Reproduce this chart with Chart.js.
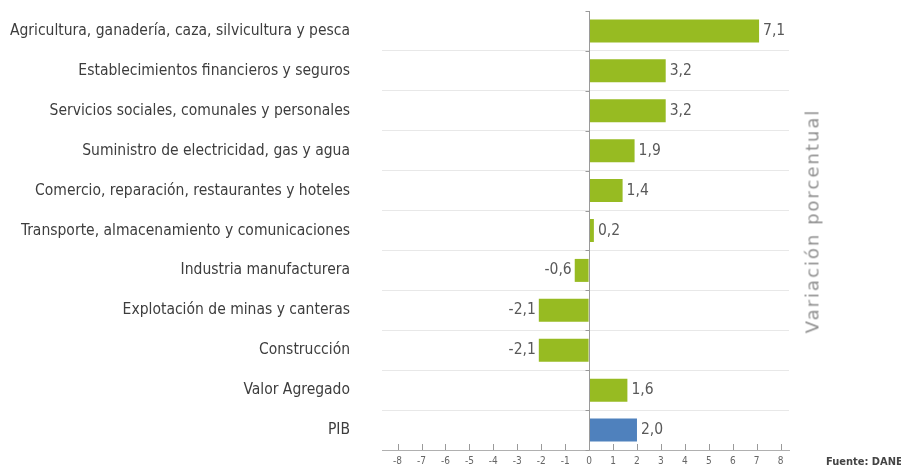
<!DOCTYPE html>
<html>
<head>
<meta charset="utf-8">
<script src="https://cdn.jsdelivr.net/npm/chart.js@4.4.1/dist/chart.umd.min.js"></script>
<style>
  html, body { margin: 0; padding: 0; background: #fff; }
  #wrap { position: relative; width: 901px; height: 470px; }
  #axisTitle {
    position: absolute; left: 812px; top: 221px;
    transform: translate(-50%, -50%) rotate(-90deg);
    font-family: "DejaVu Sans", sans-serif; font-size: 18px;
    letter-spacing: 2px; color: #8f8f8f; white-space: nowrap;
  }
  #source {
    position: absolute; left: 826px; top: 455px;
    font-family: "Liberation Sans Narrow", "DejaVu Sans Condensed", sans-serif;
    font-size: 11px; font-weight: bold; color: #444; white-space: nowrap;
  }
</style>
</head>
<body>
<div id="wrap">
  <canvas id="chart" width="901" height="470"></canvas>
  <div id="axisTitle">Variación porcentual</div>
  <div id="source">Fuente: DANE</div>
</div>
<script>
const sectors = [
  "Agricultura, ganadería, caza, silvicultura y pesca",
  "Establecimientos financieros y seguros",
  "Servicios sociales, comunales y personales",
  "Suministro de electricidad, gas y agua",
  "Comercio, reparación, restaurantes y hoteles",
  "Transporte, almacenamiento y comunicaciones",
  "Industria manufacturera",
  "Explotación de minas y canteras",
  "Construcción",
  "Valor Agregado",
  "PIB",
];
const variation = [7.1, 3.2, 3.2, 1.9, 1.4, 0.2, -0.6, -2.1, -2.1, 1.6, 2.0];
const xTicks = [-8, -7, -6, -5, -4, -3, -2, -1, 0, 1, 2, 3, 4, 5, 6, 7, 8];

const narrow = '"Liberation Sans Narrow", "DejaVu Sans Condensed", "Roboto", sans-serif';
const green = "#97bb22";
const blue = "#4f81bd";

// shrink the label font if the installed face is wider than the original one
const probe = document.createElement("canvas").getContext("2d");
probe.font = "17px " + narrow;
const widest = Math.max(...sectors.map((s) => probe.measureText(s).width));
const labelSize = Math.min(17, Math.floor((17 * 342) / widest * 10) / 10);

const valueLabels = {
  id: "valueLabels",
  afterDatasetsDraw(chart) {
    const ctx = chart.ctx;
    const meta = chart.getDatasetMeta(0);
    ctx.save();
    ctx.font = labelSize + "px " + narrow;
    ctx.fillStyle = "#595959";
    ctx.textBaseline = "middle";
    meta.data.forEach((bar, i) => {
      const v = variation[i];
      const txt = v.toFixed(1).replace(".", ",");
      if (v >= 0) {
        ctx.textAlign = "left";
        ctx.fillText(txt, bar.x + 4, bar.y);
      } else {
        ctx.textAlign = "right";
        ctx.fillText(txt, bar.x - 3, bar.y);
      }
    });
    ctx.restore();
  },
};

// zero line with small ticks, and upward ticks on the value axis
const axisMarks = {
  id: "axisMarks",
  afterDraw(chart) {
    const ctx = chart.ctx;
    const x = chart.scales.x;
    const area = chart.chartArea;
    const x0 = Math.round(x.getPixelForValue(0)) + 0.5;
    ctx.save();
    ctx.strokeStyle = "#9a9a9a";
    ctx.lineWidth = 1;
    ctx.beginPath();
    ctx.moveTo(x0, area.top);
    ctx.lineTo(x0, area.bottom);
    const band = (area.bottom - area.top) / sectors.length;
    for (let i = 0; i <= sectors.length; i++) {
      const yy = Math.round(area.top + band * i) + 0.5;
      ctx.moveTo(x0 - 4, yy);
      ctx.lineTo(x0, yy);
    }
    xTicks.forEach((t) => {
      const px = Math.round(x.getPixelForValue(t)) + 0.5;
      ctx.moveTo(px, area.bottom - 6);
      ctx.lineTo(px, area.bottom);
    });
    ctx.stroke();
    ctx.restore();
  },
};

new Chart(document.getElementById("chart"), {
  type: "bar",
  data: {
    labels: sectors,
    datasets: [
      {
        data: variation,
        backgroundColor: sectors.map((s) => (s === "PIB" ? blue : green)),
        barPercentage: 0.72,
        categoryPercentage: 0.8,
      },
    ],
  },
  options: {
    indexAxis: "y",
    responsive: false,
    animation: false,
    devicePixelRatio: 1,
    layout: { autoPadding: false, padding: { top: 11, right: 112, bottom: 0, left: 0 } },
    plugins: {
      legend: { display: false },
      tooltip: { enabled: false },
    },
    scales: {
      x: {
        min: -8.65,
        max: 8.35,
        afterBuildTicks: (scale) => {
          scale.ticks = xTicks.map((v) => ({ value: v }));
        },
        afterFit: (scale) => {
          scale.height = 20;
        },
        grid: { drawOnChartArea: false, drawTicks: false },
        border: { display: true, color: "#b0b0b0" },
        ticks: {
          padding: 5,
          font: { family: narrow, size: 10 },
          color: "#666",
        },
      },
      y: {
        afterFit: (scale) => {
          scale.width = 382;
        },
        grid: {
          offset: true,
          drawTicks: true,
          tickLength: 32,
          tickColor: "rgba(0,0,0,0)",
          color: (c) => (c.index === 0 ? "rgba(0,0,0,0)" : "#e8e8e8"),
        },
        border: { display: false },
        ticks: {
          padding: 0,
          font: { family: narrow, size: labelSize },
          color: "#3d3d3d",
        },
      },
    },
  },
  plugins: [valueLabels, axisMarks],
});
</script>
</body>
</html>
